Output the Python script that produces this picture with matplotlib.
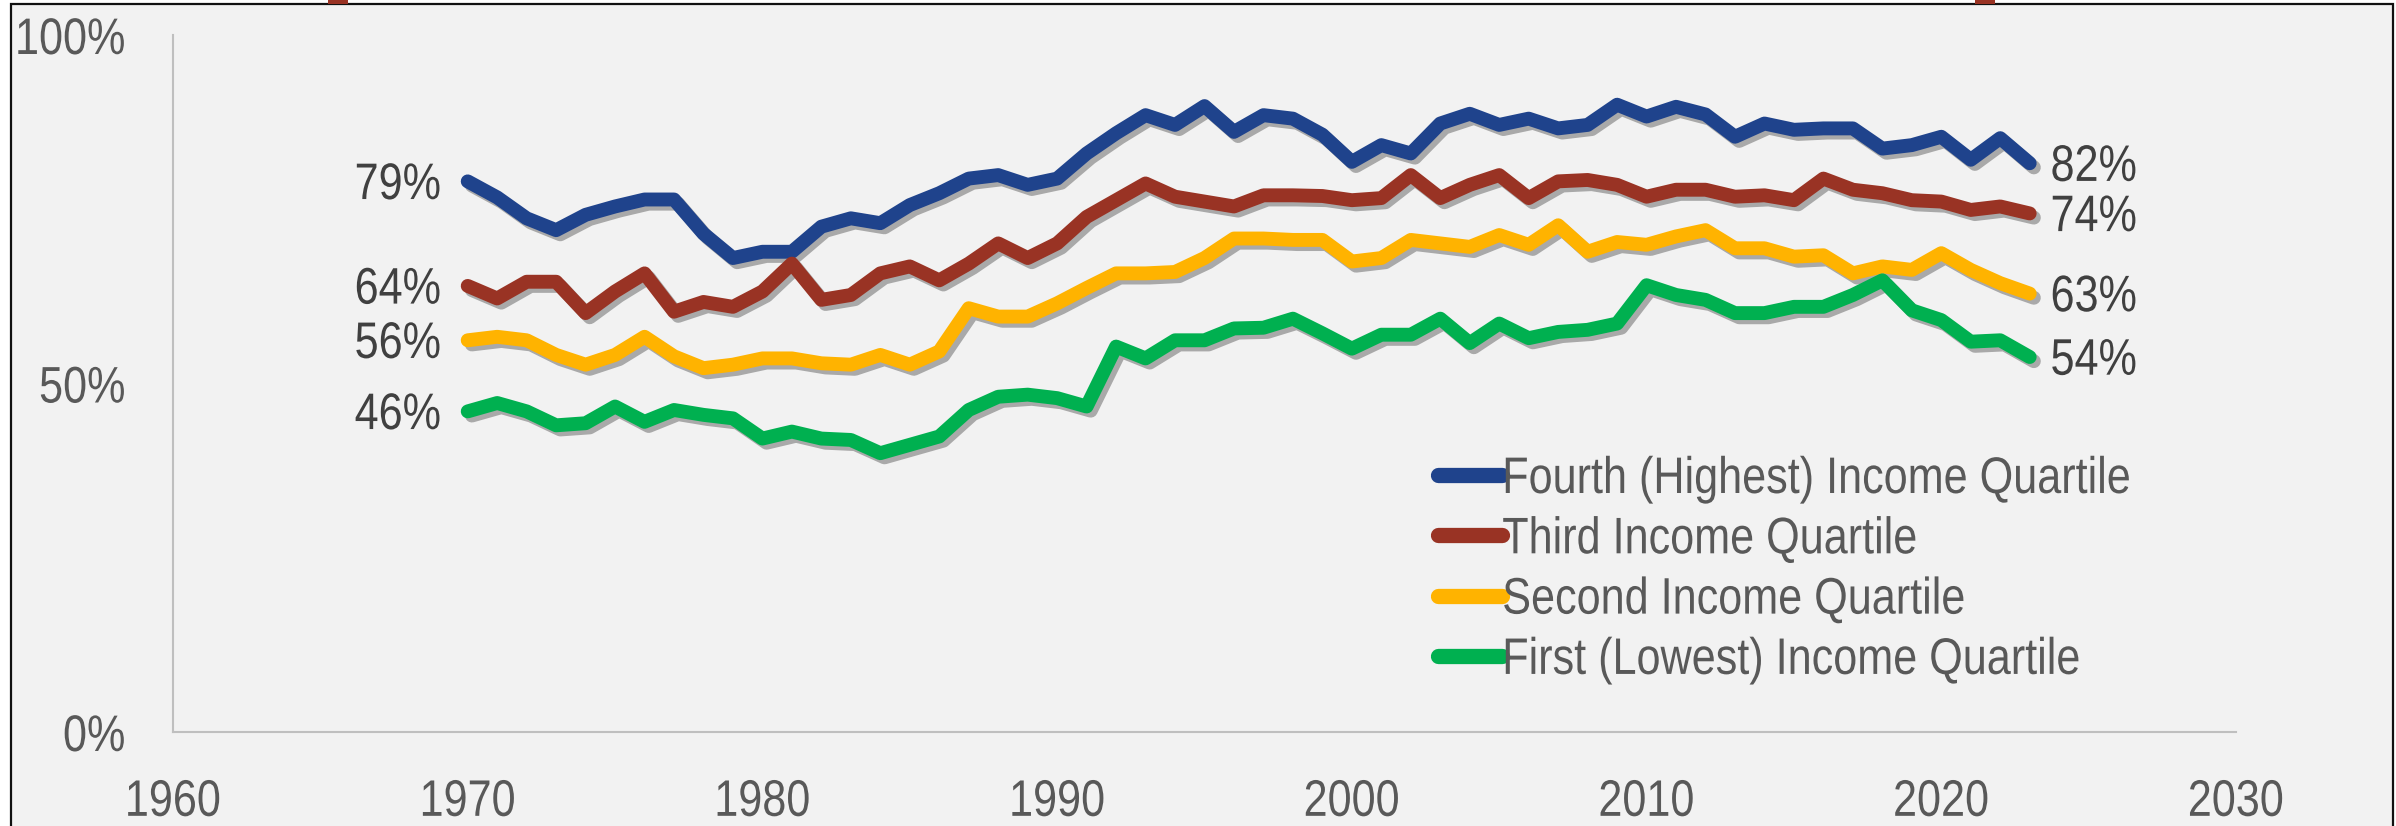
import numpy as np
import matplotlib
matplotlib.use("Agg")
import matplotlib.pyplot as plt
import matplotlib.patheffects as pe
from matplotlib.patches import Rectangle
from matplotlib.transforms import Affine2D

plt.rcParams['font.family'] = ['Liberation Sans', 'DejaVu Sans']

# --- data (share) ---
years = np.arange(1970, 2024)

fourth = [0.790, 0.767, 0.737, 0.720, 0.742, 0.754, 0.764, 0.764, 0.715, 0.680,
          0.689, 0.689, 0.725, 0.737, 0.730, 0.756, 0.773, 0.794, 0.799, 0.785,
          0.794, 0.830, 0.859, 0.885, 0.871, 0.898, 0.861, 0.885, 0.880, 0.857,
          0.818, 0.842, 0.830, 0.873, 0.887, 0.871, 0.880, 0.866, 0.871, 0.900,
          0.883, 0.897, 0.886, 0.854, 0.873, 0.864, 0.866, 0.866, 0.837, 0.842,
          0.854, 0.821, 0.852, 0.816]
third = [0.640, 0.622, 0.646, 0.646, 0.601, 0.632, 0.658, 0.603, 0.617, 0.610,
         0.632, 0.672, 0.620, 0.627, 0.658, 0.668, 0.648, 0.672, 0.701, 0.680,
         0.701, 0.739, 0.763, 0.787, 0.768, 0.761, 0.754, 0.770, 0.770, 0.769,
         0.763, 0.766, 0.799, 0.766, 0.785, 0.799, 0.766, 0.790, 0.792, 0.785,
         0.768, 0.778, 0.778, 0.768, 0.770, 0.763, 0.794, 0.778, 0.773, 0.763,
         0.761, 0.749, 0.754, 0.744]
second = [0.562, 0.567, 0.562, 0.541, 0.527, 0.541, 0.567, 0.539, 0.522, 0.527,
          0.536, 0.536, 0.529, 0.527, 0.541, 0.527, 0.546, 0.608, 0.596, 0.596,
          0.615, 0.637, 0.658, 0.658, 0.660, 0.680, 0.708, 0.708, 0.706, 0.706,
          0.675, 0.680, 0.706, 0.701, 0.696, 0.713, 0.699, 0.727, 0.689, 0.703,
          0.699, 0.711, 0.720, 0.694, 0.694, 0.682, 0.684, 0.658, 0.668, 0.663,
          0.687, 0.663, 0.644, 0.629]
first = [0.460, 0.472, 0.460, 0.440, 0.443, 0.467, 0.445, 0.462, 0.455, 0.450,
         0.421, 0.431, 0.421, 0.419, 0.400, 0.412, 0.424, 0.462, 0.481, 0.484,
         0.479, 0.467, 0.553, 0.536, 0.562, 0.562, 0.579, 0.580, 0.593, 0.572,
         0.550, 0.570, 0.570, 0.593, 0.558, 0.586, 0.565, 0.574, 0.577, 0.586,
         0.641, 0.627, 0.620, 0.601, 0.601, 0.610, 0.610, 0.627, 0.648, 0.605,
         0.591, 0.560, 0.562, 0.538]

names = ['Fourth (Highest) Income Quartile', 'Third Income Quartile',
         'Second Income Quartile', 'First (Lowest) Income Quartile']
colors = ['#1F438C', '#993324', '#FFB300', '#00B050']
series = [fourth, third, second, first]

FS = 37      # font size, pt
SX = 0.84    # horizontal squeeze, stands in for a narrow face


class Condense(pe.AbstractPathEffect):
    # squeeze the text glyphs sideways around an anchor (0 left, .5 centre, 1 right)
    def __init__(self, sx=SX, anchor=0.0):
        super().__init__()
        self.sx = sx
        self.anchor = anchor

    def draw_path(self, renderer, gc, tpath, affine, rgbFace=None):
        x0 = self.anchor * tpath.get_extents().x1
        t = Affine2D().translate(-x0, 0).scale(self.sx, 1).translate(x0, 0)
        renderer.draw_path(gc, tpath, t + affine, rgbFace)


W, H = 2396, 826
fig = plt.figure(figsize=(W / 100, H / 100), dpi=100)
fig.patch.set_facecolor('white')

# panel frame + the cut-off marks above it
fig.patches.append(Rectangle((11 / W, -0.01), (2393 - 11) / W, (H - 4) / H + 0.01,
                             transform=fig.transFigure, facecolor='#F2F2F2',
                             edgecolor='#111111', lw=1.6, zorder=-5))
for x0 in (328, 1975):
    fig.patches.append(Rectangle((x0 / W, (H - 4) / H), 20 / W, 4 / H,
                                 transform=fig.transFigure, facecolor='#993324',
                                 edgecolor='none', zorder=-4))

ax = fig.add_axes([173 / W, (H - 732) / H, (2236 - 173) / W, (732 - 35) / H])
ax.set_facecolor('none')

shadow = [pe.SimpleLineShadow(offset=(3, -3), shadow_color='black', alpha=0.3),
          pe.Normal()]
for vals, c, n in zip(series, colors, names):
    ax.plot(years, vals, color=c, lw=10, label=n, solid_capstyle='round',
            solid_joinstyle='round', path_effects=shadow, zorder=3)
    ax.annotate(f"{round(vals[0] * 100)}%", xy=(years[0], vals[0]),
                xytext=(-19, -3), textcoords='offset points', ha='right',
                va='center', fontsize=FS, color='#404040',
                path_effects=[Condense(anchor=1.0)])
    ax.annotate(f"{round(vals[-1] * 100)}%", xy=(years[-1], vals[-1]),
                xytext=(15, -3), textcoords='offset points', ha='left',
                va='center', fontsize=FS, color='#404040',
                path_effects=[Condense(anchor=0.0)])

ax.set_xlim(1960, 2030)
ax.set_ylim(0, 1)
ax.set_xticks(range(1960, 2031, 10))
ax.set_yticks([0, 0.5, 1.0])
ax.set_yticklabels(['0%', '50%', '100%'])
ax.tick_params(length=0, labelsize=FS, labelcolor='#595959')
ax.tick_params(axis='y', pad=34)
ax.tick_params(axis='x', pad=33)
for lab in ax.get_yticklabels():
    lab.set_path_effects([Condense(anchor=1.0)])
for lab in ax.get_xticklabels():
    lab.set_path_effects([Condense(anchor=0.5)])
for s in ['top', 'right']:
    ax.spines[s].set_visible(False)
for s in ['left', 'bottom']:
    ax.spines[s].set_color('#BFBFBF')
    ax.spines[s].set_linewidth(1.5)

leg = ax.legend(loc='upper left', bbox_to_anchor=(1438 / W, (H - 455) / H),
                bbox_transform=fig.transFigure, frameon=False, fontsize=FS,
                handlelength=1.25, handletextpad=0.0, labelspacing=0.22,
                borderpad=0, borderaxespad=0)
for t in leg.get_texts():
    t.set_color('#595959')
    t.set_path_effects([Condense(anchor=0.0)])
for h in leg.get_lines():
    h.set_linewidth(11)
    h.set_solid_capstyle('round')
    h.set_path_effects([])

fig.savefig('out.png', dpi=100, facecolor=fig.get_facecolor())
